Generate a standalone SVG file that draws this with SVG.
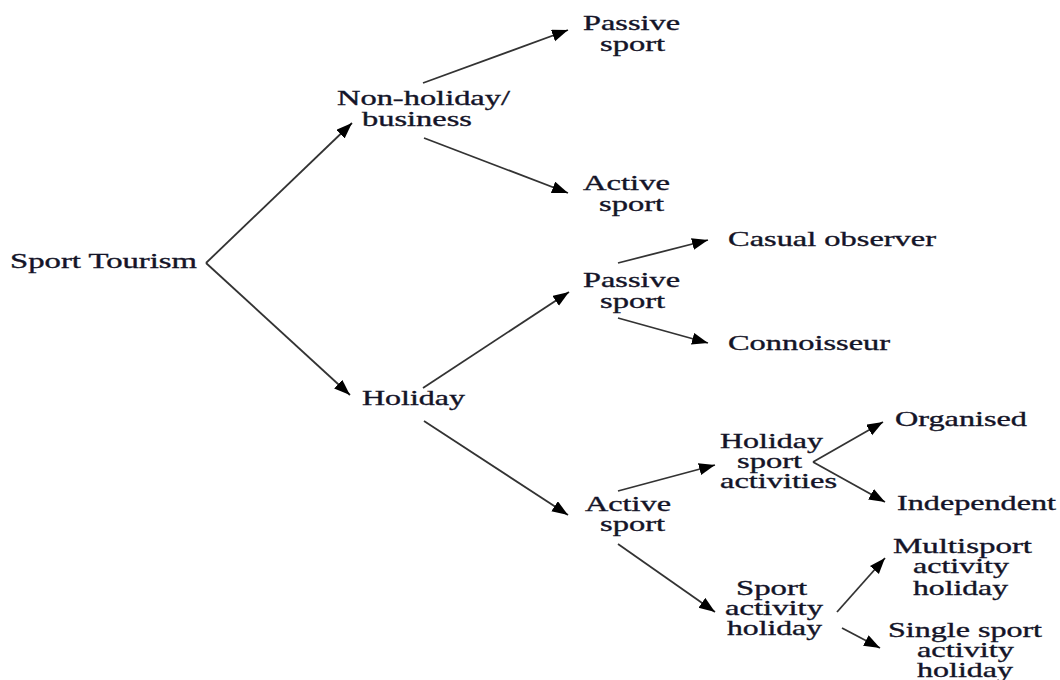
<svg xmlns="http://www.w3.org/2000/svg" width="1060" height="680" viewBox="0 0 1060 680">
<style>
.t{font-family:"Liberation Serif","Times New Roman",serif;font-size:21px;fill:#141428;stroke:#141428;stroke-width:0.35;}
.c{stroke:#333;stroke-width:1.8;fill:none;marker-end:url(#ah);}
</style>
<defs>
<marker id="ah" markerUnits="userSpaceOnUse" markerWidth="17" markerHeight="13" refX="16" refY="6" orient="auto">
<path d="M0,0 L16,6 L0,12 z" fill="#000"/>
</marker>
</defs>
<rect width="1060" height="680" fill="#fff"/>
<g id="connectors">
<path class="c" d="M206,263 L352,123"/>
<path class="c" d="M206,263 L350,395"/>
<path class="c" d="M423,83 L568,30"/>
<path class="c" d="M424,138 L568,193"/>
<path class="c" d="M423,388 L569,292"/>
<path class="c" d="M424,421 L568,515"/>
<path class="c" d="M618,263 L708,240"/>
<path class="c" d="M618,318 L708,343"/>
<path class="c" d="M618,491 L715,465"/>
<path class="c" d="M618,544 L715,612"/>
<path class="c" d="M813,462 L883,422"/>
<path class="c" d="M813,462 L885,502"/>
<path class="c" d="M837,612 L885,558"/>
<path class="c" d="M842,628 L880,648"/>
</g>
<g id="sport-tourism"><text class="t" x="10" y="268" textLength="187" lengthAdjust="spacingAndGlyphs">Sport Tourism</text></g>
<g id="non-holiday">
<text class="t" x="337" y="105" textLength="173" lengthAdjust="spacingAndGlyphs">Non-holiday/</text>
<text class="t" x="362" y="126" textLength="110" lengthAdjust="spacingAndGlyphs">business</text>
</g>
<g id="nh-passive">
<text class="t" x="583" y="30" textLength="97" lengthAdjust="spacingAndGlyphs">Passive</text>
<text class="t" x="600" y="51" textLength="65" lengthAdjust="spacingAndGlyphs">sport</text>
</g>
<g id="nh-active">
<text class="t" x="583" y="190" textLength="87" lengthAdjust="spacingAndGlyphs">Active</text>
<text class="t" x="599" y="211" textLength="65" lengthAdjust="spacingAndGlyphs">sport</text>
</g>
<g id="holiday"><text class="t" x="362" y="405" textLength="103" lengthAdjust="spacingAndGlyphs">Holiday</text></g>
<g id="h-passive">
<text class="t" x="583" y="287" textLength="97" lengthAdjust="spacingAndGlyphs">Passive</text>
<text class="t" x="600" y="308" textLength="65" lengthAdjust="spacingAndGlyphs">sport</text>
</g>
<g id="casual"><text class="t" x="728" y="246" textLength="208" lengthAdjust="spacingAndGlyphs">Casual observer</text></g>
<g id="connoisseur"><text class="t" x="728" y="350" textLength="162" lengthAdjust="spacingAndGlyphs">Connoisseur</text></g>
<g id="h-active">
<text class="t" x="585" y="511" textLength="86" lengthAdjust="spacingAndGlyphs">Active</text>
<text class="t" x="600" y="531" textLength="65" lengthAdjust="spacingAndGlyphs">sport</text>
</g>
<g id="holiday-sport-activities">
<text class="t" x="720" y="448" textLength="103" lengthAdjust="spacingAndGlyphs">Holiday</text>
<text class="t" x="737" y="468" textLength="65" lengthAdjust="spacingAndGlyphs">sport</text>
<text class="t" x="720" y="488" textLength="117" lengthAdjust="spacingAndGlyphs">activities</text>
</g>
<g id="organised"><text class="t" x="895" y="426" textLength="132" lengthAdjust="spacingAndGlyphs">Organised</text></g>
<g id="independent"><text class="t" x="897" y="510" textLength="159" lengthAdjust="spacingAndGlyphs">Independent</text></g>
<g id="sport-activity-holiday">
<text class="t" x="736" y="595" textLength="71" lengthAdjust="spacingAndGlyphs">Sport</text>
<text class="t" x="725" y="615" textLength="98" lengthAdjust="spacingAndGlyphs">activity</text>
<text class="t" x="727" y="635" textLength="95" lengthAdjust="spacingAndGlyphs">holiday</text>
</g>
<g id="multisport">
<text class="t" x="893" y="553" textLength="139" lengthAdjust="spacingAndGlyphs">Multisport</text>
<text class="t" x="913" y="573" textLength="96" lengthAdjust="spacingAndGlyphs">activity</text>
<text class="t" x="913" y="595" textLength="95" lengthAdjust="spacingAndGlyphs">holiday</text>
</g>
<g id="single-sport">
<text class="t" x="888" y="637" textLength="154" lengthAdjust="spacingAndGlyphs">Single sport</text>
<text class="t" x="917" y="657" textLength="97" lengthAdjust="spacingAndGlyphs">activity</text>
<text class="t" x="917" y="677" textLength="96" lengthAdjust="spacingAndGlyphs">holiday</text>
</g>
</svg>
